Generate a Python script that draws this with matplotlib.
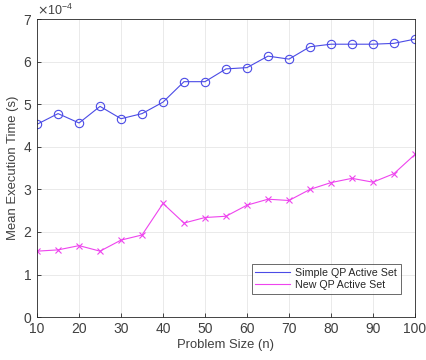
import matplotlib
matplotlib.use("Agg")
import matplotlib.pyplot as plt
from matplotlib.ticker import ScalarFormatter
import numpy as np

problem_size = [10, 15, 20, 25, 30, 35, 40, 45, 50, 55, 60, 65, 70, 75, 80, 85, 90, 95, 100]
simple_qp = [4.53, 4.78, 4.56, 4.95, 4.66, 4.78, 5.05, 5.53, 5.53, 5.83, 5.86, 6.13, 6.06,
             6.35, 6.41, 6.41, 6.41, 6.43, 6.53]
new_qp = [1.55, 1.58, 1.68, 1.55, 1.81, 1.93, 2.67, 2.21, 2.34, 2.37, 2.63, 2.77, 2.74,
          3.00, 3.16, 3.26, 3.17, 3.37, 3.82]
scale = 1e-4
x_ticks = [10, 20, 30, 40, 50, 60, 70, 80, 90, 100]
y_ticks = [0, 1, 2, 3, 4, 5, 6, 7]

plt.rcParams['font.family'] = ['Arial', 'Liberation Sans', 'DejaVu Sans']

fig = plt.figure(figsize=(4.26, 3.60), dpi=100)
ax = fig.add_axes([0.087, 0.119, 0.887, 0.828])

blue = '#4b4be6'
mag = '#ee44ee'
ax.plot(problem_size, np.array(simple_qp) * scale, '-o', color=blue, lw=0.8,
        markersize=6, markerfacecolor='none', markeredgewidth=0.8, label='Simple QP Active Set')
ax.plot(problem_size, np.array(new_qp) * scale, '-x', color=mag, lw=0.8,
        markersize=4, markeredgewidth=0.8, label='New QP Active Set')

ax.set_xlim(10, 100)
ax.set_ylim(0, 7e-4)
ax.set_xticks(x_ticks)
ax.set_yticks(np.array(y_ticks) * scale)
fmt = ScalarFormatter(useMathText=True)
fmt.set_powerlimits((-4, -4))
ax.yaxis.set_major_formatter(fmt)
ax.yaxis.get_offset_text().set_fontsize(9)
ax.yaxis.get_offset_text().set_color('#404040')

ax.grid(True, color='#e6e6e6', lw=0.6)
ax.set_axisbelow(True)
for s in ax.spines.values():
    s.set_color('#262626')
    s.set_linewidth(0.6)
ax.tick_params(direction='in', length=3, width=0.6, colors='#262626', labelsize=10,
               top=False, right=False, labelcolor='#404040')

ax.set_xlabel('Problem Size (n)', fontsize=9.4, color='#404040', labelpad=2)
ax.set_ylabel('Mean Execution Time (s)', fontsize=9.4, color='#404040', labelpad=3)

leg = ax.legend(loc='lower right', bbox_to_anchor=(0.976, 0.06), fontsize=7.7,
                frameon=True, fancybox=False, edgecolor='#262626', handlelength=3.2,
                borderpad=0.35, labelspacing=0.25, handletextpad=0.5)
leg.get_frame().set_linewidth(0.6)
for t in leg.get_texts():
    t.set_color('#262626')
for h in leg.legend_handles:
    h.set_marker('')

fig.savefig('out.png', dpi=100)
